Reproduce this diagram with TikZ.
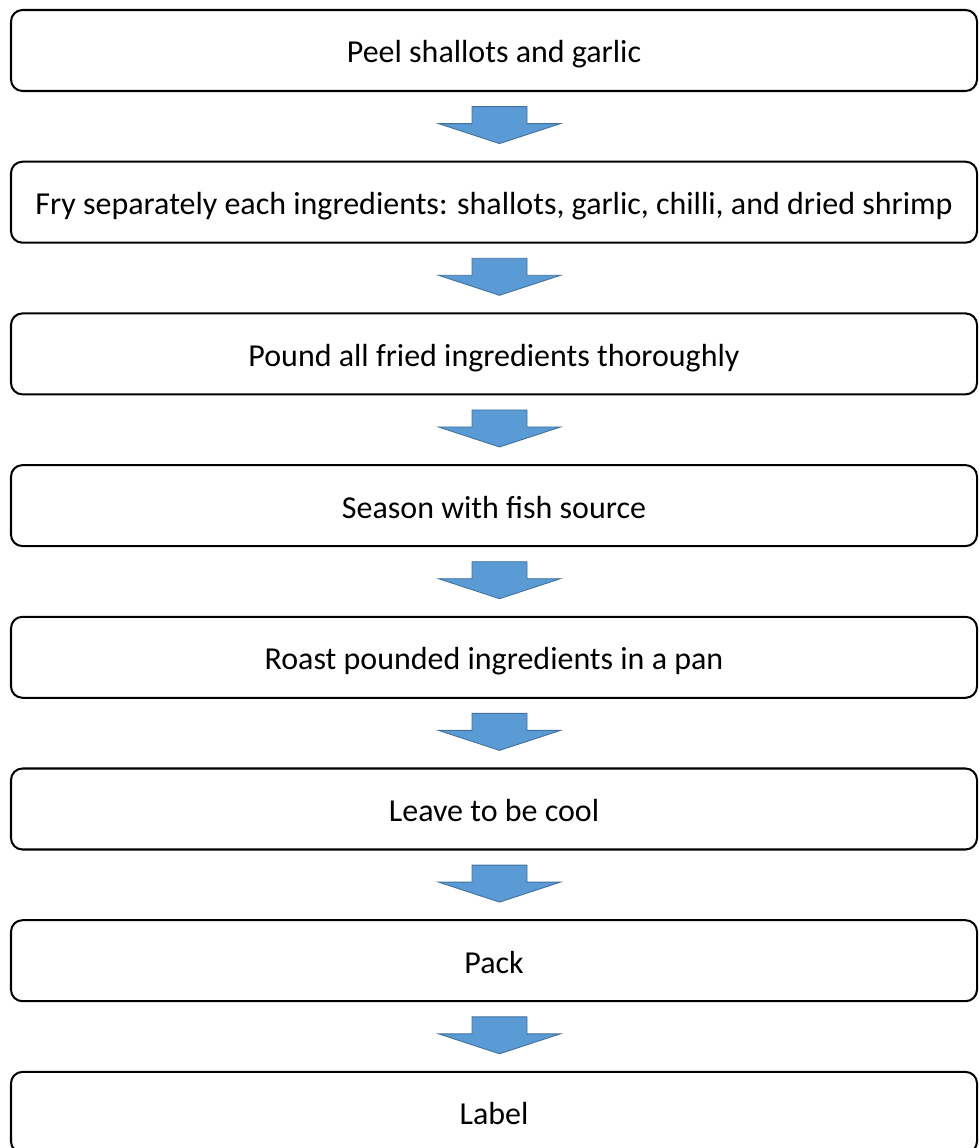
\documentclass[tikz,border=0pt]{standalone}
\usepackage{fontspec}
\setmainfont{Carlito}
\usetikzlibrary{positioning,calc}
\definecolor{arrowfill}{HTML}{5B9BD5}
\definecolor{arrowline}{HTML}{41719C}

\begin{document}
\begin{tikzpicture}[
    stepbox/.style={draw, line width=1.15pt, rounded corners=6.5pt,
      minimum width=19.32cm, minimum height=1.62cm, inner sep=0pt,
      text height=0.5cm, text depth=0cm,
      font=\fontsize{18.2}{22}\selectfont},
    blockarrow/.style={fill=arrowfill, draw=arrowline, line width=0.5pt}]
    \useasboundingbox (0,0) rectangle (19.56,-22.96);
    % ---- the steps, top to bottom
    \node[stepbox] (s1) at (9.88, -1.010) {Peel shallots and garlic};
    \node[stepbox] (s2) at (9.88, -4.044) {Fry separately each ingredients: shallots, garlic, chilli, and dried shrimp};
    \node[stepbox] (s3) at (9.88, -7.078) {Pound all fried ingredients thoroughly};
    \node[stepbox] (s4) at (9.88,-10.112) {Season with fish source};
    \node[stepbox] (s5) at (9.88,-13.146) {Roast pounded ingredients in a pan};
    \node[stepbox] (s6) at (9.88,-16.180) {Leave to be cool};
    \node[stepbox] (s7) at (9.88,-19.214) {Pack};
    \node[stepbox] (s8) at (9.88,-22.248) {Label};
    % ---- block arrows between the steps
    \foreach \u/\v in {s1/s2,s2/s3,s3/s4,s4/s5,s5/s6,s6/s7,s7/s8} {
      \coordinate (m\u) at ($(\u.south)!0.5!(\v.north)+(0.11,0)$);
      \draw[blockarrow] ($(m\u)+(-0.55,0.395)$) -- ++(1.1,0) -- ++(0,-0.34)
        -- ++(0.67,0) -- ++(-1.22,-0.4) -- ++(-1.22,0.4) -- ++(0.67,0) -- cycle;
    }
  \end{tikzpicture}
\end{document}
